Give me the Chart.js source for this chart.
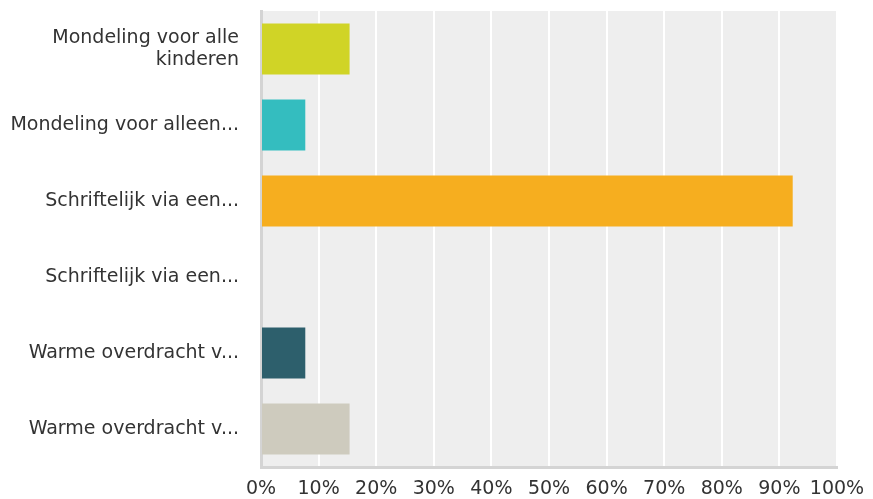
<!DOCTYPE html>
<html>
<head>
<meta charset="utf-8">
<script src="https://cdn.jsdelivr.net/npm/chart.js@4/dist/chart.umd.min.js"></script>
<style>
  html, body { margin: 0; padding: 0; background: #fff; }
  #wrap { width: 873px; height: 499px; }
</style>
</head>
<body>
<div id="wrap"><canvas id="chart"></canvas></div>
<script>
// antwoordopties en percentages
const categories = [
   ['Mondeling voor alle', 'kinderen'],
   'Mondeling voor alleen...',
   'Schriftelijk via een...',
   'Schriftelijk via een...',
   'Warme overdracht v...',
   'Warme overdracht v...'
];
const percentages = [15.38, 7.69, 92.31, 0, 7.69, 15.38];
const barColors = ['#d0d426', '#34bdbf', '#f6ae1f', '#3a86a0', '#2d5f6c', '#cecbbe'];
const tickValues = [0, 10, 20, 30, 40, 50, 60, 70, 80, 90, 100];

// grijze achtergrond achter het plotgebied
const plotBackground = {
   id: 'plotBackground',
   beforeDraw(chart) {
      const {ctx, chartArea} = chart;
      ctx.save();
      ctx.fillStyle = '#eeeeee';
      ctx.fillRect(chartArea.left, chartArea.top, chartArea.right - chartArea.left, chartArea.bottom - chartArea.top);
      ctx.restore();
   }
};

const labelFont = { family: '"DejaVu Sans", Verdana, sans-serif', size: 19 };

new Chart(document.getElementById('chart'), {
   type: 'bar',
   data: {
      labels: categories,
      datasets: [{
         data: percentages,
         backgroundColor: barColors,
         borderWidth: 0,
         categoryPercentage: 0.67,
         barPercentage: 1
      }]
   },
   options: {
      indexAxis: 'y',
      responsive: true,
      maintainAspectRatio: false,
      animation: false,
      layout: { padding: { top: 11, right: 36, left: 0, bottom: 0 } },
      plugins: {
         legend: { display: false },
         tooltip: { enabled: false }
      },
      scales: {
         x: {
            min: 0,
            max: 100,
            afterBuildTicks(axis) {
               axis.ticks = tickValues.map(v => ({ value: v }));
            },
            afterFit(axis) {
               axis.height = 32;
               axis.paddingRight = 0;
            },
            grid: { color: '#ffffff', lineWidth: 2, drawTicks: false },
            border: { display: true, color: '#d4d4d4', width: 3 },
            ticks: {
               color: '#333',
               font: labelFont,
               padding: 11,
               maxRotation: 0,
               autoSkip: false,
               callback: v => v + '%'
            }
         },
         y: {
            afterFit(axis) {
               axis.width = 261;
               axis.paddingTop = 0;
               axis.paddingBottom = 0;
            },
            grid: { display: false, drawTicks: false },
            border: { display: true, color: '#d4d4d4', width: 3 },
            ticks: {
               color: '#333',
               font: labelFont,
               padding: 22,
               autoSkip: false
            }
         }
      }
   },
   plugins: [plotBackground]
});
</script>
</body>
</html>
